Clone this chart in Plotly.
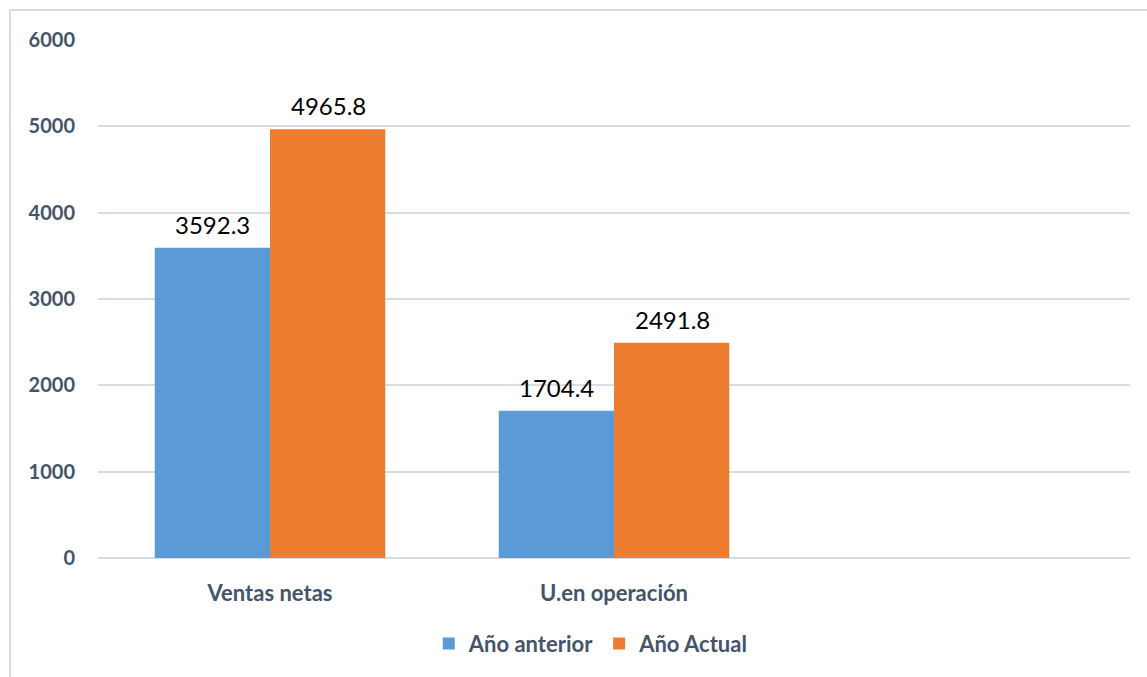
import plotly.graph_objects as go

categories = ["Ventas netas", "U.en operación", " "]
anio_anterior = [3592.3, 1704.4, None]
anio_actual = [4965.8, 2491.8, None]
y_ticks = [0, 1000, 2000, 3000, 4000, 5000, 6000]

FONT = "Lato, Open Sans, sans-serif"
SLATE = "#44546a"

fig = go.Figure()
fig.add_trace(go.Bar(
    name="Año anterior", x=categories, y=anio_anterior,
    marker=dict(color="#5b9bd5", line=dict(width=0)),
))
fig.add_trace(go.Bar(
    name="Año Actual", x=categories, y=anio_actual,
    marker=dict(color="#ee7d2f", line=dict(width=0)),
))

# value labels above each bar
for series, shift in ((anio_anterior, -58), (anio_actual, 58)):
    for cat, v in zip(categories, series):
        if v is None:
            continue
        fig.add_annotation(x=cat, y=v, xref="x", yref="y", text=f"{v}",
                           showarrow=False, xshift=shift, yshift=7, yanchor="bottom",
                           font=dict(family=FONT, size=24, color="#000000"))

fig.update_layout(
    width=1147, height=677,
    margin=dict(l=98, r=17, t=40, b=117),
    paper_bgcolor="white", plot_bgcolor="white",
    barmode="group", bargap=0.33, bargroupgap=0,
    font=dict(family=FONT, color=SLATE),
    showlegend=True,
    legend=dict(orientation="h", x=0.478, xanchor="center", y=-0.125, yanchor="top",
                font=dict(family=FONT, size=22, color=SLATE, weight="bold"),
                itemwidth=30, traceorder="normal"),
)
fig.update_yaxes(
    range=[0, 6000], tickvals=y_ticks, ticktext=[str(t) for t in y_ticks],
    showgrid=True, gridcolor="#d9dde3", gridwidth=1.5,
    zeroline=True, zerolinecolor="#d9dde3", zerolinewidth=1.5,
    showline=False, ticks="", ticklabelstandoff=22,
    tickfont=dict(family=FONT, size=20, color=SLATE, weight="bold"),
)
fig.update_xaxes(
    showgrid=False, showline=False, ticks="", ticklabelstandoff=20,
    tickfont=dict(family=FONT, size=22, color=SLATE, weight="bold"),
)
# chart frame
fig.add_shape(type="rect", xref="paper", yref="paper",
              x0=-0.0853, x1=1.1, y0=-0.4, y1=1.0577,
              line=dict(color="#d9dde3", width=2), fillcolor="rgba(0,0,0,0)", layer="below")

fig.write_html("out.html")
